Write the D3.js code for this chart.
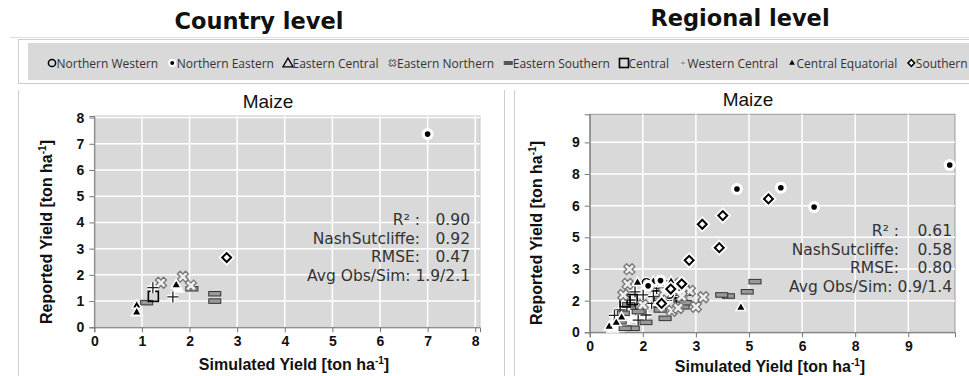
<!DOCTYPE html>
<html>
<head>
<meta charset="utf-8">
<script src="https://cdn.jsdelivr.net/npm/d3@7"></script>
<style>
body { margin: 0; background: #fff; }
svg { display: block; }
</style>
</head>
<body>
<div id="chart"></div>
<script>
// legend categories
var regions = ["Northern Western", "Northern Eastern", "Eastern Central", "Eastern Northern",
               "Eastern Southern", "Central", "Western Central", "Central Equatorial", "Southern"];

// country level: [region, simulated, reported]
var countryPoints = [
    ["Eastern Central", 0.9, 0.6], ["Eastern Central", 1.76, 1.5],
    ["Eastern Southern", 1.1, 0.94], ["Eastern Southern", 2.05, 1.47],
    ["Eastern Southern", 2.53, 1.28], ["Eastern Southern", 2.53, 1.0],
    ["Central", 1.24, 1.18],
    ["Eastern Northern", 1.86, 1.93], ["Eastern Northern", 2.03, 1.59], ["Eastern Northern", 1.4, 1.7],
    ["Western Central", 1.23, 1.51], ["Western Central", 1.65, 1.16],
    ["Central Equatorial", 0.89, 0.83], ["Central Equatorial", 0.89, 0.57], ["Central Equatorial", 1.72, 1.61],
    ["Southern", 2.78, 2.66],
    ["Northern Eastern", 7.0, 7.37]
];

// regional level: [region, simulated, reported]
var regionalPoints = [
    ["Eastern Central", 0.6, 0.3], ["Eastern Central", 0.8, 0.5], ["Eastern Central", 0.9, 0.8],
    ["Eastern Central", 1.0, 0.6], ["Eastern Central", 0.7, 0.6], ["Eastern Central", 1.1, 0.9],
    ["Eastern Central", 0.65, 0.2], ["Eastern Central", 1.2, 0.7], ["Eastern Central", 0.8, 0.25],
    ["Western Central", 1.28, 1.92], ["Western Central", 1.51, 1.77], ["Western Central", 1.75, 1.37],
    ["Western Central", 1.37, 0.58], ["Western Central", 1.59, 0.82], ["Western Central", 1.8, 1.69],
    ["Western Central", 1.14, 1.53], ["Western Central", 1.89, 2.08], ["Western Central", 2.18, 1.53],
    ["Western Central", 1.05, 1.21], ["Western Central", 0.86, 1.06], ["Western Central", 2.4, 1.75],
    ["Western Central", 1.3, 1.1], ["Western Central", 0.7, 0.8], ["Western Central", 1.95, 1.2],
    ["Eastern Southern", 4.67, 2.4], ["Eastern Southern", 4.45, 1.92], ["Eastern Southern", 3.92, 1.72],
    ["Eastern Southern", 3.73, 1.77], ["Eastern Southern", 2.13, 0.66], ["Eastern Southern", 1.59, 0.47],
    ["Eastern Southern", 1.23, 0.19], ["Eastern Southern", 1.0, 0.19], ["Eastern Southern", 0.95, 0.9],
    ["Eastern Southern", 0.86, 0.5], ["Eastern Southern", 1.37, 0.98], ["Eastern Southern", 1.99, 1.06],
    ["Eastern Southern", 2.55, 1.53], ["Eastern Southern", 2.64, 1.21], ["Eastern Southern", 2.74, 1.85],
    ["Eastern Southern", 2.36, 1.85], ["Eastern Southern", 2.0, 1.6], ["Eastern Southern", 1.1, 1.3],
    ["Eastern Southern", 2.7, 1.4],
    ["Central", 1.2, 1.55], ["Central", 1.9, 2.2], ["Central", 2.3, 1.4], ["Central", 1.0, 1.45], ["Central", 2.65, 2.0],
    ["Northern Western", 2.1, 2.3], ["Northern Western", 2.45, 2.2], ["Northern Western", 1.6, 2.35], ["Northern Western", 2.25, 1.8],
    ["Eastern Northern", 1.12, 2.99], ["Eastern Northern", 1.07, 2.29], ["Eastern Northern", 3.21, 1.66],
    ["Eastern Northern", 3.0, 1.21], ["Eastern Northern", 2.32, 1.02], ["Eastern Northern", 2.83, 1.96],
    ["Eastern Northern", 1.68, 2.24], ["Eastern Northern", 0.95, 1.77], ["Eastern Northern", 2.6, 1.7],
    ["Eastern Northern", 1.9, 2.35], ["Eastern Northern", 2.4, 2.3], ["Eastern Northern", 2.1, 1.9],
    ["Eastern Northern", 1.5, 1.3], ["Eastern Northern", 2.5, 1.15],
    ["Central Equatorial", 4.27, 1.17], ["Central Equatorial", 1.35, 2.35], ["Central Equatorial", 1.8, 2.4],
    ["Central Equatorial", 2.0, 2.3], ["Central Equatorial", 2.3, 2.4], ["Central Equatorial", 2.5, 2.25],
    ["Central Equatorial", 2.2, 2.1], ["Central Equatorial", 0.55, 0.27], ["Central Equatorial", 0.9, 0.7],
    ["Central Equatorial", 1.6, 2.2], ["Central Equatorial", 0.75, 0.45],
    ["Northern Eastern", 2.0, 2.45], ["Northern Eastern", 1.65, 2.2], ["Northern Eastern", 2.55, 2.1],
    ["Southern", 5.05, 6.32], ["Southern", 3.76, 5.53], ["Southern", 3.18, 5.12], ["Southern", 3.66, 4.01],
    ["Southern", 2.81, 3.41], ["Southern", 2.6, 2.3], ["Southern", 2.29, 2.05], ["Southern", 2.03, 1.37],
    ["Northern Eastern", 4.16, 6.79], ["Northern Eastern", 5.4, 6.85], ["Northern Eastern", 6.34, 5.94],
    ["Northern Eastern", 10.17, 7.93]
];

var statLabels = ["R\u00b2 :", "NashSutcliffe:", "RMSE:", "Avg Obs/Sim:"];
var countryStats = ["0.90", "0.92", "0.47", "1.9/2.1"];
var regionalStats = ["0.61", "0.58", "0.80", "0.9/1.4"];

var countryTicks = [0, 1, 2, 3, 4, 5, 6, 7, 8];
var regionalTicks = [0, 1.5, 3, 4.5, 6, 7.5, 9];

var W = 969, H = 376;
var svg = d3.select("#chart").append("svg").attr("width", W).attr("height", H);

// frame lines
svg.append("line").attr("x1", 10).attr("x2", W).attr("y1", 37.5).attr("y2", 37.5).attr("stroke", "#ddd");
svg.append("rect").attr("x", 18.5).attr("y", 39.5).attr("width", W).attr("height", 44)
    .attr("fill", "#fff").attr("stroke", "#ccc");
svg.append("rect").attr("x", 28).attr("y", 43).attr("width", W).attr("height", 37).attr("fill", "#d9d9d9");
[18.5, 504.5, 514.5].forEach(function(x) {
    svg.append("line").attr("x1", x).attr("x2", x).attr("y1", 90).attr("y2", H).attr("stroke", "#ccc");
});

svg.append("text").attr("x", 259).attr("y", 29).attr("text-anchor", "middle")
    .style("font", "bold 22.5px 'DejaVu Sans'").attr("fill", "#111").text("Country level");
svg.append("text").attr("x", 740).attr("y", 26).attr("text-anchor", "middle")
    .style("font", "bold 22.5px 'DejaVu Sans'").attr("fill", "#111").text("Regional level");

function marker(g, region, x, y, small) {
    if (region == "Northern Western") {
        g.append("circle").attr("cx", x).attr("cy", y).attr("r", small ? 3.6 : 4).attr("fill", "none")
            .attr("stroke", "#fff").attr("stroke-width", small ? 0 : 4);
        g.append("circle").attr("cx", x).attr("cy", y).attr("r", small ? 3.6 : 4).attr("fill", "none")
            .attr("stroke", "#000").attr("stroke-width", 1.5);
    } else if (region == "Northern Eastern") {
        g.append("circle").attr("cx", x).attr("cy", y).attr("r", small ? 4 : 6).attr("fill", "#fff");
        g.append("circle").attr("cx", x).attr("cy", y).attr("r", small ? 2 : 2.8).attr("fill", "#000");
    } else if (region == "Eastern Central") {
        var tri = d3.symbol(d3.symbolTriangle, small ? 45 : 70)();
        if (small)
            g.append("path").attr("d", tri).attr("transform", "translate(" + x + "," + (y + 1) + ")")
                .attr("fill", "none").attr("stroke", "#000").attr("stroke-width", 1.3);
        else
            g.append("path").attr("d", tri).attr("transform", "translate(" + x + "," + (y + 1) + ")")
                .attr("fill", "#fff").attr("stroke", "#eee").attr("stroke-width", 1);
    } else if (region == "Eastern Northern") {
        g.append("path").attr("d", d3.symbol(d3.symbolCross, small ? 28 : 75)())
            .attr("transform", "translate(" + x + "," + y + ") rotate(45)")
            .attr("fill", "#eee").attr("stroke", "#777").attr("stroke-width", 1.3);
    } else if (region == "Eastern Southern") {
        var w = small ? 8 : 12, h = small ? 3 : 4.5;
        g.append("rect").attr("x", x - w / 2).attr("y", y - h / 2).attr("width", w).attr("height", h)
            .attr("fill", small ? "#555" : "#999").attr("stroke", small ? "#555" : "#333").attr("stroke-width", 1);
    } else if (region == "Central") {
        var s = small ? 9 : 10;
        g.append("rect").attr("x", x - s / 2).attr("y", y - s / 2).attr("width", s).attr("height", s)
            .attr("fill", "none").attr("stroke", "#000").attr("stroke-width", 1.6);
    } else if (region == "Western Central") {
        var a = small ? 2.5 : 5.5;
        var p = "M" + (x - a) + "," + y + "H" + (x + a) + "M" + x + "," + (y - a) + "V" + (y + a);
        g.append("path").attr("d", p).attr("stroke", "#fff").attr("stroke-width", small ? 3 : 4.5);
        g.append("path").attr("d", p).attr("stroke", small ? "#999" : "#222").attr("stroke-width", 1.3);
    } else if (region == "Central Equatorial") {
        var t = d3.symbol(d3.symbolTriangle, small ? 14 : 22)();
        g.append("path").attr("d", t).attr("transform", "translate(" + x + "," + y + ")")
            .attr("fill", "#000").attr("stroke", "#fff").attr("stroke-width", small ? 0 : 3).attr("paint-order", "stroke");
    } else if (region == "Southern") {
        // diamond = square turned by 45 degrees
        var sq = d3.symbol(d3.symbolSquare, small ? 22 : 40)();
        if (!small)
            g.append("path").attr("d", sq).attr("transform", "translate(" + x + "," + y + ") rotate(45)")
                .attr("fill", "none").attr("stroke", "#fff").attr("stroke-width", 5.5);
        g.append("path").attr("d", sq).attr("transform", "translate(" + x + "," + y + ") rotate(45)")
            .attr("fill", "#fff").attr("stroke", "#000").attr("stroke-width", small ? 1.5 : 2);
    }
}

// legend, laid out left to right
var lx = 48;
regions.forEach(function(r) {
    var g = svg.append("g");
    marker(g, r, lx + 4, 63, true);
    var t = g.append("text").attr("x", lx + 8.5).attr("y", 67.5)
        .style("font", "12px 'Open Sans'").attr("fill", "#333").text(r);
    lx += 8.5 + t.node().getComputedTextLength() + 10;
});

function panel(cfg) {
    var x = d3.scaleLinear().domain(cfg.xDomain).range(cfg.xRange);
    var y = d3.scaleLinear().domain(cfg.yDomain).range(cfg.yRange);
    var g = svg.append("g");

    g.append("rect").attr("x", cfg.xRange[0]).attr("y", cfg.yRange[1])
        .attr("width", cfg.xRange[1] - cfg.xRange[0]).attr("height", cfg.yRange[0] - cfg.yRange[1])
        .attr("fill", "#d9d9d9").attr("stroke", cfg.border).attr("stroke-width", 1);

    // gridlines
    g.append("g").selectAll("line").data(cfg.ticks.filter(function(d) { return d > 0; }))
        .enter().append("line")
        .attr("x1", function(d) { return x(d); }).attr("x2", function(d) { return x(d); })
        .attr("y1", cfg.yRange[0]).attr("y2", cfg.yRange[1])
        .attr("stroke", "#fff").attr("stroke-width", 1.5);
    g.append("g").selectAll("line").data(cfg.ticks.filter(function(d) { return d > 0; }))
        .enter().append("line")
        .attr("y1", function(d) { return y(d); }).attr("y2", function(d) { return y(d); })
        .attr("x1", cfg.xRange[0]).attr("x2", cfg.xRange[1])
        .attr("stroke", "#fff").attr("stroke-width", 1.5);

    var xAxis = d3.axisBottom(x).tickValues(cfg.ticks).tickSize(5).tickPadding(4).tickFormat(cfg.fmt);
    var yAxis = d3.axisLeft(y).tickValues(cfg.ticks).tickSize(5).tickPadding(5).tickFormat(cfg.fmt);
    var ax = g.append("g").attr("transform", "translate(0," + cfg.yRange[0] + ")").call(xAxis);
    var ay = g.append("g").attr("transform", "translate(" + cfg.xRange[0] + ",0)").call(yAxis);
    [ax, ay].forEach(function(a) {
        a.select(".domain").attr("stroke", "#777");
        a.selectAll(".tick line").attr("stroke", "#777");
        a.selectAll(".tick text").attr("fill", "#111")
            .style("font", "bold 14px 'Liberation Sans', Arial, sans-serif");
    });

    // points
    var pts = g.append("g");
    cfg.points.forEach(function(d) { marker(pts, d[0], x(d[1]), y(d[2]), false); });

    g.append("text").attr("x", cfg.titleX).attr("y", cfg.yRange[1] - 8).attr("text-anchor", "middle")
        .style("font", "19px 'Liberation Sans', Arial, sans-serif").attr("fill", "#111").text("Maize");

    var xt = g.append("text").attr("x", cfg.xTitleX).attr("y", cfg.xTitleY).attr("text-anchor", "middle")
        .style("font", "bold 16px 'Liberation Sans', Arial, sans-serif").attr("fill", "#111");
    xt.append("tspan").text("Simulated Yield [ton ha");
    xt.append("tspan").attr("dy", -6).style("font-size", "10px").text("-1");
    xt.append("tspan").attr("dy", 6).text("]");

    var yt = g.append("text").attr("transform", "translate(" + cfg.yTitleX + "," + cfg.yTitleY + ") rotate(-90)")
        .attr("text-anchor", "middle")
        .style("font", "bold 16px 'Liberation Sans', Arial, sans-serif").attr("fill", "#111");
    yt.append("tspan").text("Reported Yield [ton ha");
    yt.append("tspan").attr("dy", -6).style("font-size", "10px").text("-1");
    yt.append("tspan").attr("dy", 6).text("]");

    // statistics
    var st = g.append("g").style("font", "15.5px 'DejaVu Sans'").attr("fill", "#333");
    statLabels.forEach(function(lab, i) {
        var by = cfg.statY + i * 18.5;
        if (i < 3) {
            st.append("text").attr("x", cfg.statLabelX).attr("y", by).attr("text-anchor", "end").text(lab);
            st.append("text").attr("x", cfg.statValX).attr("y", by).attr("text-anchor", "end").text(cfg.stats[i]);
        } else {
            st.append("text").attr("x", cfg.statValX).attr("y", by).attr("text-anchor", "end")
                .text(lab + " " + cfg.stats[i]);
        }
    });
}

panel({
    xDomain: [0, 8.1], yDomain: [0, 8.06], xRange: [94.3, 480], yRange: [327.3, 116],
    ticks: countryTicks, fmt: d3.format("d"), points: countryPoints, border: "#c8c8c8",
    titleX: 268, xTitleX: 294, xTitleY: 370, yTitleX: 52, yTitleY: 232,
    stats: countryStats, statY: 225, statLabelX: 420, statValX: 470
});

panel({
    xDomain: [0, 10.32], yDomain: [0, 10.33], xRange: [589.7, 955], yRange: [332.3, 114.3],
    ticks: regionalTicks, fmt: function(d) { return Math.round(d); }, points: regionalPoints, border: "#999",
    titleX: 748, xTitleX: 770, xTitleY: 372, yTitleX: 542, yTitleY: 233,
    stats: regionalStats, statY: 236, statLabelX: 899, statValX: 952
});
</script>
</body>
</html>
